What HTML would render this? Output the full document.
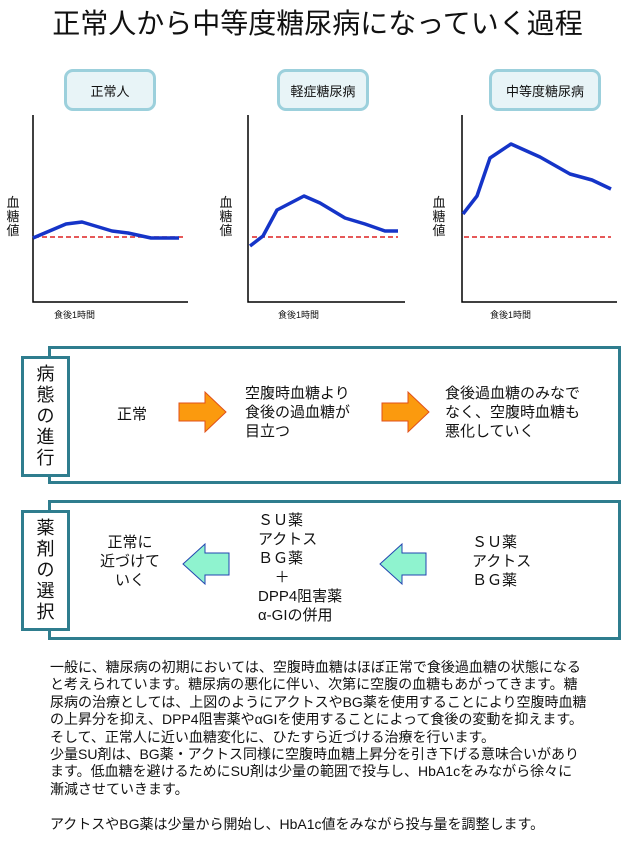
<!DOCTYPE html>
<html><head><meta charset="utf-8"><style>
body{margin:0;width:635px;height:846px;background:#fff;position:relative;overflow:hidden;font-family:"Liberation Sans","Noto Sans CJK JP",sans-serif;color:#111}
.a{position:absolute;white-space:nowrap}
.lb{position:absolute;border:3px solid #9cd0dc;background:#e8f4f7;border-radius:9px;font-size:13px;display:flex;align-items:center;justify-content:center;box-sizing:border-box}
.vt{position:absolute;font-size:13px;line-height:14px;width:14px;text-align:center}
.ob{position:absolute;border:3px solid #2f7d8e;box-sizing:border-box;background:#fff}
.tb{position:absolute;border:3px solid #2f7d8e;box-sizing:border-box;background:#fff;font-size:18px;line-height:21px;text-align:center;padding-top:5px}
.t{position:absolute;font-size:15px;line-height:19px;white-space:nowrap}
.p{position:absolute;left:50px;top:659px;font-size:14px;line-height:17.4px;white-space:nowrap}
</style></head><body>
<div class="a" style="left:0;width:635px;text-align:center;top:2px;font-size:28px">正常人から中等度糖尿病になっていく過程</div>
<div class="lb" style="left:64px;top:69px;width:92px;height:42px">正常人</div>
<div class="lb" style="left:277px;top:69px;width:92px;height:42px">軽症糖尿病</div>
<div class="lb" style="left:489px;top:69px;width:112px;height:42px">中等度糖尿病</div>
<div class="vt" style="left:6px;top:196px">血<br>糖<br>値</div>
<div class="vt" style="left:219px;top:196px">血<br>糖<br>値</div>
<div class="vt" style="left:432px;top:196px">血<br>糖<br>値</div>
<div class="a" style="left:54px;top:308px;font-size:9px">食後1時間</div>
<div class="a" style="left:278px;top:308px;font-size:9px">食後1時間</div>
<div class="a" style="left:490px;top:308px;font-size:9px">食後1時間</div>
<svg class="a" style="left:0;top:0" width="635" height="340">
<g stroke="#000" stroke-width="1.5" fill="none">
<polyline points="33,115 33,302 188,302"/>
<polyline points="248,115 248,302 405,302"/>
<polyline points="462,115 462,302 617,302"/>
</g>
<g stroke="#d22" stroke-width="1.5" stroke-dasharray="5,3">
<line x1="34" y1="237" x2="183" y2="237"/>
<line x1="252" y1="237" x2="398" y2="237"/>
<line x1="464" y1="237" x2="611" y2="237"/>
</g>
<g stroke="#1534c8" stroke-width="3.5" fill="none" stroke-linejoin="round">
<polyline points="33,238 66,224 82,222 112,231 128,233 151,238 179,238"/>
<polyline points="250,246 263,236 277,210 304,196 320,203 335,212 345,218 365,224 385,231 398,231"/>
<polyline points="463,214 477,196 490,158 511,144 540,157 570,174 592,180 611,189"/>
</g>
</svg>
<div class="ob" style="left:48px;top:346px;width:573px;height:138px"></div>
<div class="tb" style="left:21px;top:356px;width:49px;height:121px">病<br>態<br>の<br>進<br>行</div>
<div class="t" style="left:117px;top:405px">正常</div>
<div class="t" style="left:245px;top:384px">空腹時血糖より<br>食後の過血糖が<br>目立つ</div>
<div class="t" style="left:445px;top:384px">食後過血糖のみなで<br>なく、空腹時血糖も<br>悪化していく</div>
<div class="ob" style="left:48px;top:500px;width:573px;height:140px"></div>
<div class="tb" style="left:21px;top:510px;width:49px;height:121px">薬<br>剤<br>の<br>選<br>択</div>
<div class="t" style="left:100px;top:533px;text-align:center">正常に<br>近づけて<br>いく</div>
<div class="t" style="left:258px;top:511px">ＳＵ薬<br>アクトス<br>ＢＧ薬<br>&nbsp;&nbsp;&nbsp;&nbsp;＋<br>DPP4阻害薬<br>α-GIの併用</div>
<div class="t" style="left:472px;top:533px">ＳＵ薬<br>アクトス<br>ＢＧ薬</div>
<svg class="a" style="left:0;top:340px" width="635" height="300">
<polygon points="179,63 205,63 205,52 226,72 205,92 205,81 179,81" fill="#fb9a0e" stroke="#e0501a" stroke-width="1"/>
<polygon points="382,63 408,63 408,52 429,72 408,92 408,81 382,81" fill="#fb9a0e" stroke="#e0501a" stroke-width="1"/>
<polygon points="229,213 205,213 205,204 183,224 205,244 205,235 229,235" fill="#8ff3cf" stroke="#2245b0" stroke-width="1"/>
<polygon points="426,213 402,213 402,204 380,224 402,244 402,235 426,235" fill="#8ff3cf" stroke="#2245b0" stroke-width="1"/>
</svg>
<div class="p">一般に、糖尿病の初期においては、空腹時血糖はほぼ正常で食後過血糖の状態になる<br>と考えられています。糖尿病の悪化に伴い、次第に空腹の血糖もあがってきます。糖<br>尿病の治療としては、上図のようにアクトスやBG薬を使用することにより空腹時血糖<br>の上昇分を抑え、DPP4阻害薬やαGIを使用することによって食後の変動を抑えます。<br>そして、正常人に近い血糖変化に、ひたすら近づける治療を行います。<br>少量SU剤は、BG薬・アクトス同様に空腹時血糖上昇分を引き下げる意味合いがあり<br>ます。低血糖を避けるためにSU剤は少量の範囲で投与し、HbA1cをみながら徐々に<br>漸減させていきます。<br><br>アクトスやBG薬は少量から開始し、HbA1c値をみながら投与量を調整します。</div>
</body></html>
